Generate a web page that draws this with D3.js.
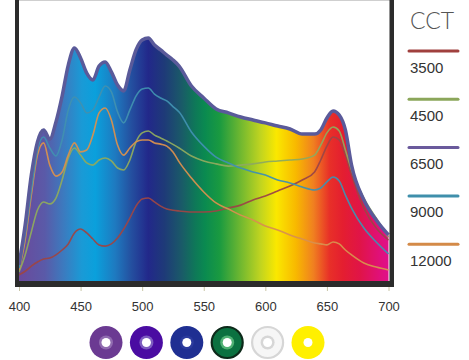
<!DOCTYPE html>
<html>
<head>
<meta charset="utf-8">
<script src="https://cdn.jsdelivr.net/npm/d3@7"></script>
<style>
  html, body { margin: 0; padding: 0; background: #fff; }
  svg { display: block; }
</style>
</head>
<body>
<svg id="chart" width="469" height="360"></svg>
<script>
// ---- data ----
const wavelengths = [400,405,410,415,420,425,430,435,440,445,450,455,460,465,470,475,480,485,490,495,500,505,510,515,520,525,530,540,550,560,570,580,590,600,610,620,630,640,645,650,655,660,665,670,680,690,700];
const cct3500  = [2.5,4.0,6.1,7.8,9.0,9.4,10.7,12.7,15.2,19.7,21.3,19.7,17.2,14.8,14.3,15.2,17.6,21.3,25.8,30.7,33.6,34.0,32.4,30.7,29.5,29.0,28.7,28.3,28.3,28.7,29.9,31.1,33.2,34.8,36.9,38.9,41.4,44.7,49.6,55.3,59.0,57.8,51.6,43.4,29.9,21.7,16.8];
const cct4500  = [3.7,10.7,20.1,29.1,32.4,31.6,34.0,41.4,50.4,54.5,51.6,48.4,47.5,49.6,50.4,49.2,46.3,45.5,49.6,57.0,60.7,61.5,59.8,58.6,57.4,56.0,54.5,51.2,49.2,48.0,47.1,47.5,48.0,48.8,49.2,49.6,50.0,51.6,55.7,60.7,63.1,61.5,53.7,45.5,34.0,25.8,18.0];
const cct6500  = [6.6,23.0,43.4,57.0,61.9,58.2,65.2,75.8,88.5,95.5,91.4,85.2,82.4,88.1,89.8,85.7,80.3,77.9,86.5,94.7,98.8,99.6,96.7,94.7,92.6,90.6,88.1,79.9,75.0,70.5,68.9,67.2,66.0,64.8,63.5,62.3,60.2,60.2,61.9,66.8,69.7,68.0,61.9,47.5,33.2,25.0,18.9];
const cct9000  = [5.3,18.9,37.3,53.7,59.0,54.5,51.2,57.8,70.1,75.4,73.0,68.9,70.1,75.4,79.9,77.5,69.3,64.8,70.1,75.8,78.7,79.1,76.6,75.0,73.8,71.5,69.3,61.1,55.3,50.8,48.4,46.3,44.7,43.4,41.4,40.2,38.5,37.3,38.1,40.6,42.6,41.0,35.2,29.9,21.7,16.0,11.1];
const cct12000 = [4.5,16.8,35.2,51.6,56.6,47.5,43.0,44.7,51.6,56.6,52.9,53.7,59.8,68.9,70.9,66.0,55.7,51.6,54.5,57.0,57.8,57.8,56.6,56.1,55.3,52.9,48.8,42.2,36.5,32.0,29.5,27.0,25.0,22.5,20.9,18.9,17.2,15.6,15.2,14.8,16.0,15.2,12.7,10.7,7.4,5.7,4.5];

const xTicks = [400,450,500,550,600,650,700];
const legendTitle = "CCT";
const legendLabels = ["3500","4500","6500","9000","12000"];
const legendColors = ["#a0403e","#8ba65a","#6a5a9c","#3f8fab","#d48a48"];
const lineColors   = ["#9c4646","#8eaa5e","#5a5a9a","#4090b0","#d8904e"];

const spectrumWl     = [400,421,437,451,462,478,491,505,518,532,543,551,563,580,596,609,625,639,652,663,677,693,700];
const spectrumColors = ["#6a4a9c","#5a5aa8","#3a7cc0","#1a9ad6","#0aa0dc","#1e7ac0","#2450a0","#22288a","#1e3a78","#1a5a68","#0e7858","#0a8a50","#1a9a40","#70b830","#c0d420","#fae800","#f8b800","#f08020","#e83028","#e41e30","#e01448","#e0107a","#e0108a"];

const ringFills   = ["#6b3a92","#4a0ca2","#1f2f92","#0b7140","#f6f6f6","#fff000"];
const ringStrokes = ["none","none","none","#0d2a1a","#d6d6d6","none"];
const ringHalos   = ["#9a78b8","#8a70c8","#2f3fa0","#60c080","#d0d0d0","#fff000"];

// ---- layout ----
const svg = d3.select("#chart");
const x = d3.scaleLinear().domain([400, 700]).range([19, 388.5]);
const y = d3.scaleLinear().domain([0, 100]).range([281, 37]);

const defs = svg.append("defs");
const grad = defs.append("linearGradient")
  .attr("id", "spectrum")
  .attr("gradientUnits", "userSpaceOnUse")
  .attr("x1", x(400)).attr("x2", x(700)).attr("y1", 0).attr("y2", 0);
spectrumWl.forEach((w, i) => {
  grad.append("stop")
    .attr("offset", (x(w) - x(400)) / (x(700) - x(400)))
    .attr("stop-color", spectrumColors[i]);
});

const pts = arr => arr.map((v, i) => [wavelengths[i], v]);
const curve = d3.curveMonotoneX;

// filled envelope
const area = d3.area().x(d => x(d[0])).y0(y(0)).y1(d => y(d[1])).curve(curve);
svg.append("path").datum(pts(cct6500)).attr("d", area).attr("fill", "url(#spectrum)");

// lines
const line = d3.line().x(d => x(d[0])).y(d => y(d[1])).curve(curve);
const series = [cct3500, cct4500, cct12000, cct9000];
const seriesColors = [lineColors[0], lineColors[1], lineColors[4], lineColors[3]];
series.forEach((s, i) => {
  svg.append("path").datum(pts(s)).attr("d", line)
    .attr("fill", "none").attr("stroke", seriesColors[i])
    .attr("stroke-width", 1.6).attr("stroke-opacity", 0.95);
});
svg.append("path").datum(pts(cct6500)).attr("d", line)
  .attr("fill", "none").attr("stroke", lineColors[2])
  .attr("stroke-width", 3.5).attr("stroke-linejoin", "round");

// frame
svg.append("line").attr("x1", 15).attr("x2", 394).attr("y1", 0.5).attr("y2", 0.5)
  .attr("stroke", "#cfcfcf").attr("stroke-width", 1);
svg.append("rect").attr("x", 15).attr("y", 0).attr("width", 4).attr("height", 287).attr("fill", "#2b2b2b");
svg.append("rect").attr("x", 389.5).attr("y", 0).attr("width", 4.5).attr("height", 287).attr("fill", "#2b2b2b");
svg.append("rect").attr("x", 15).attr("y", 281).attr("width", 379).attr("height", 6).attr("fill", "#2b2b2b");

// x axis
const axis = svg.append("g").attr("transform", "translate(0,287)")
  .call(d3.axisBottom(x).tickValues(xTicks).tickSize(4).tickPadding(11).tickFormat(d3.format("d")));
axis.select(".domain").remove();
axis.selectAll(".tick line").attr("stroke", "#c9c6a8");
axis.selectAll(".tick text").attr("fill", "#333").attr("font-size", "13px")
  .attr("font-family", "'Liberation Sans Narrow', 'Liberation Sans', Arial, sans-serif");

// legend
svg.append("text").attr("x", 410).attr("y", 29).text(legendTitle)
  .attr("font-family", "Lato, 'Open Sans', sans-serif").attr("font-weight", 300)
  .attr("font-size", "23px").attr("fill", "#555");
legendLabels.forEach((lab, i) => {
  const ly = 51 + i * 48.3;
  svg.append("line").attr("x1", 409).attr("x2", 458).attr("y1", ly).attr("y2", ly)
    .attr("stroke", legendColors[i]).attr("stroke-width", 3).attr("stroke-linecap", "round");
  svg.append("text").attr("x", 410).attr("y", ly + 21.5).text(lab)
    .attr("font-family", "'Liberation Sans', Arial, sans-serif")
    .attr("font-size", "15px").attr("fill", "#333");
});

// LED rings
const ringX = d3.scalePoint().domain(d3.range(ringFills.length)).range([106, 308]);
ringFills.forEach((c, i) => {
  const g = svg.append("g").attr("transform", `translate(${ringX(i)},342.5)`);
  g.append("circle").attr("r", ringStrokes[i] === "none" ? 16.5 : 15.5).attr("fill", c)
    .attr("stroke", ringStrokes[i]).attr("stroke-width", ringStrokes[i] === "none" ? 0 : 2.2);
  g.append("circle").attr("r", 7).attr("fill", ringHalos[i]).attr("opacity", 0.8);
  g.append("circle").attr("r", 4.5).attr("fill", "#fff");
  if (i === 4) g.append("circle").attr("r", 6).attr("fill", "none").attr("stroke", "#d6d6d6").attr("stroke-width", 1);
});
</script>
</body>
</html>
